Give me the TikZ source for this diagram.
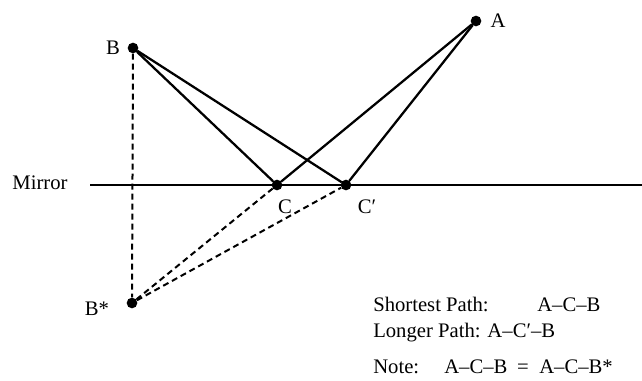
\documentclass[tikz,border=0pt]{standalone}
\usepackage{fontspec}
\setmainfont{Liberation Serif}
\usepackage{tikz}
\tikzset{
  mirrorline/.style={line width=1.9pt, draw=black, line cap=butt},
  rayline/.style={line width=1.7pt, draw=black, line cap=round},
  imageline/.style={line width=1.5pt, draw=black, dash pattern=on 4.5pt off 3pt},
  ptdot/.style={circle, fill=black, draw=none, inner sep=0pt, minimum size=8pt},
  ptlabel/.style={font=\fontsize{15.5}{18}\selectfont, inner sep=0pt},
}

\begin{document}
\begin{tikzpicture}[x=0.75pt,y=-0.75pt]
\useasboundingbox (0,0) rectangle (642,381);
\node[ptdot] (A) at (476,21) {};
\node[ptdot] (B) at (133,48) {};
\node[ptdot] (Bs) at (132,303) {};
\node[ptdot] (C) at (277,185) {};
\node[ptdot] (Cp) at (346,185) {};
\coordinate (mirrorL) at (90,185);
\coordinate (mirrorR) at (642,185);
\draw[mirrorline] (mirrorL) -- (mirrorR);
\draw[rayline] (A) -- (C) -- (B);
\draw[rayline] (A) -- (Cp) -- (B);
\draw[imageline] (B) -- (Bs);
\draw[imageline] (Bs) -- (C);
\draw[imageline] (Bs) -- (Cp);
\node[ptlabel] (Alabel) at (498,21) {A};
\node[ptlabel] (Blabel) at (113,48) {B};
\node[ptlabel] (Bslabel) at (97,309) {B*};
\node[ptlabel] (Clabel) at (285,207) {C};
\node[ptlabel] (Cplabel) at (367,207) {C′};
\node[ptlabel] (mirrorlabel) at (40,183) {Mirror};
\node[ptlabel, anchor=base west] (shortest) at (373,311) {Shortest Path:};
\node[ptlabel, anchor=base west] (shortestpath) at (537,311) {A--C--B};
\node[ptlabel, anchor=base west] (longer) at (373,337) {Longer Path: A--C′--B};
\node[ptlabel, anchor=base west] (note) at (373,373) {Note:};
\node[ptlabel, anchor=base west] (noteleft) at (444,373) {A--C--B};
\node[ptlabel, anchor=base] (noteeq) at (523,373) {=};
\node[ptlabel, anchor=base west] (noteright) at (539,373) {A--C--B*};
\end{tikzpicture}
\end{document}
